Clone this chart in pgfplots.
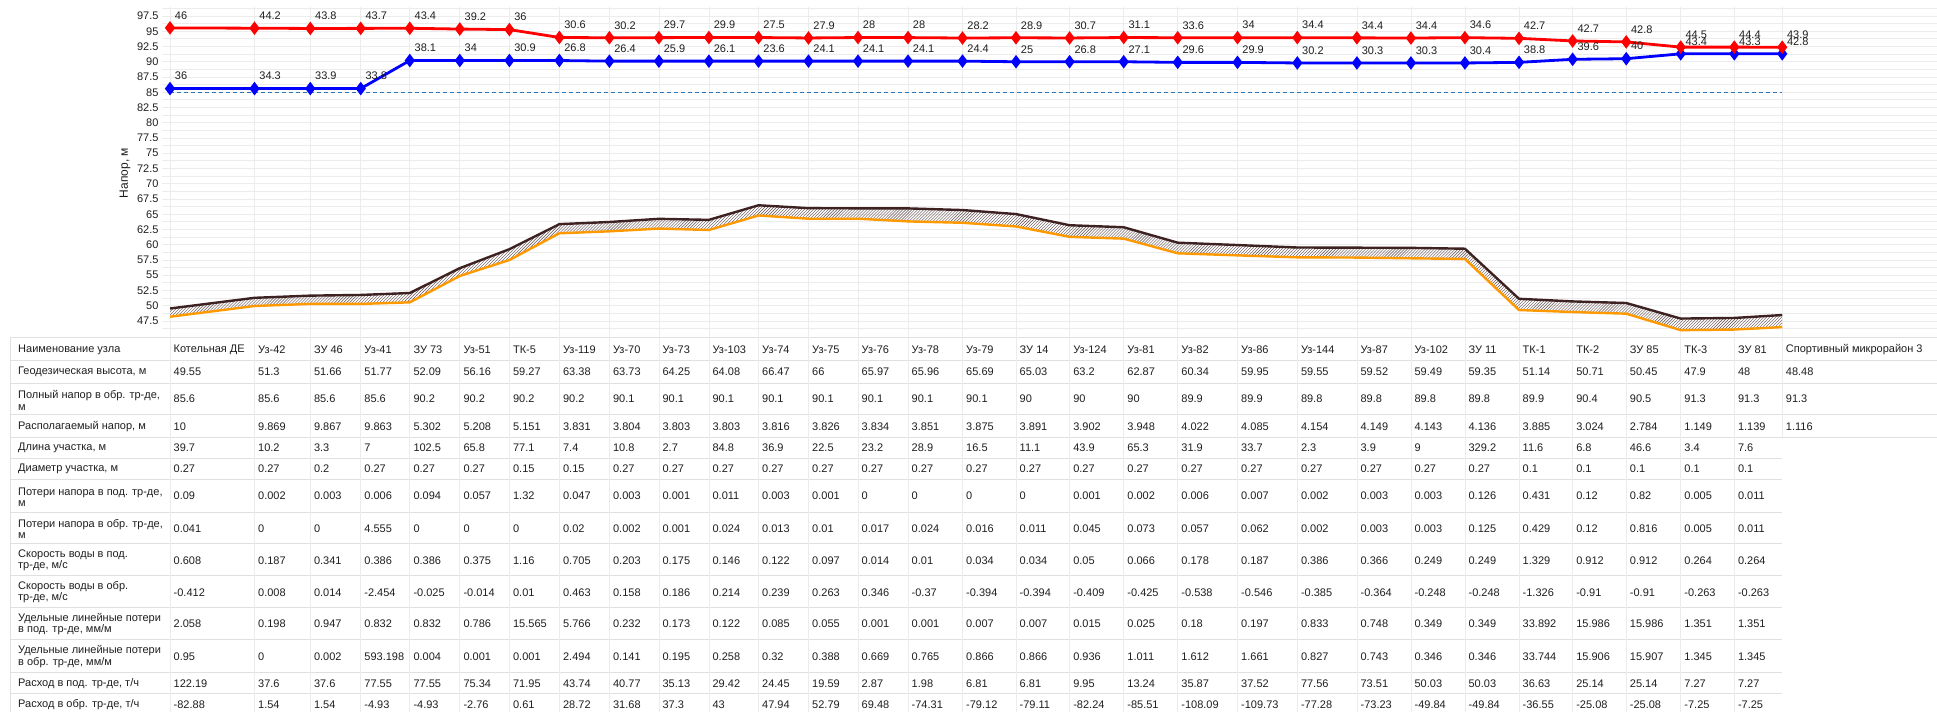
\documentclass[border=0pt]{standalone}
\usepackage{fontspec}
\setmainfont{Liberation Sans}
\usepackage{pgfplots}
\usepackage{pgfplotstable}
\pgfplotsset{compat=1.18}
\usetikzlibrary{patterns}

\definecolor{gridc}{RGB}{236,236,236}
\definecolor{tabc}{RGB}{224,224,224}
\definecolor{redc}{RGB}{255,0,0}
\definecolor{bluec}{RGB}{0,0,255}
\definecolor{brownc}{RGB}{62,34,34}
\definecolor{orangec}{RGB}{255,153,0}
\definecolor{dashc}{RGB}{46,117,182}
\definecolor{hatchc}{RGB}{95,75,75}
\definecolor{txt}{RGB}{30,30,30}

\newcommand\tf{\fontsize{11bp}{11.5bp}\selectfont}

% x = horizontal position of the node (column start), geo = geodesic height,
% sup / ret = full head in supply / return pipe, tr = pipe bottom line,
% dsup / dret = head above ground (labels)
\pgfplotstableread{
x geo sup ret tr dsup dret
170 49.55 95.55 85.6 48.2 46 36
254.5 51.3 95.5 85.6 49.96 44.2 34.3
310.3 51.66 95.46 85.6 50.3 43.8 33.9
360.7 51.77 95.47 85.6 50.3 43.7 33.8
409.8 52.09 95.49 90.2 50.56 43.4 38.1
459.8 56.16 95.36 90.2 54.88 39.2 34
509.4 59.27 95.27 90.2 57.5 36 30.9
559.4 63.38 93.98 90.2 61.88 30.6 26.8
609.4 63.73 93.93 90.1 62.2 30.2 26.4
658.9 64.25 93.95 90.1 62.65 29.7 25.9
708.9 64.08 93.98 90.1 62.42 29.9 26.1
758.5 66.47 93.97 90.1 64.8 27.5 23.6
808.5 66 93.9 90.1 64.27 27.9 24.1
858 65.97 93.97 90.1 64.27 28 24.1
908 65.96 93.96 90.1 63.83 28 24.1
962.5 65.69 93.89 90.1 63.6 28.2 24.4
1016 65.03 93.93 90 63.0 28.9 25
1069.6 63.2 93.9 90 61.3 30.7 26.8
1123.7 62.87 93.97 90 61.0 31.1 27.1
1177.7 60.34 93.94 89.9 58.6 33.6 29.6
1237.5 59.95 93.95 89.9 58.26 34 29.9
1297.3 59.55 93.95 89.8 57.94 34.4 30.2
1356.9 59.52 93.92 89.8 57.9 34.4 30.3
1410.9 59.49 93.89 89.8 57.78 34.4 30.3
1464.9 59.35 93.95 89.8 57.67 34.6 30.4
1519 51.14 93.84 89.9 49.3 42.7 38.8
1572.6 50.71 93.41 90.4 48.97 42.7 39.6
1626.2 50.45 93.25 90.5 48.7 42.8 40
1680.7 47.9 92.4 91.3 46.0 44.5 43.4
1734.3 48 92.4 91.3 46.1 44.4 43.3
1782.2 48.48 92.38 91.3 46.5 43.9 42.8
}\data

\def\cx{{170,254.5,310.3,360.7,409.8,459.8,509.4,559.4,609.4,658.9,708.9,758.5,808.5,858,908,962.5,1016,1069.6,1123.7,1177.7,1237.5,1297.3,1356.9,1410.9,1464.9,1519,1572.6,1626.2,1680.7,1734.3,1782.2}}

\newcommand\tabrow[2]{%
  \foreach \v [count=\i from 0] in {#2}{%
    \pgfmathsetmacro\xx{\cx[\i]+3.5}%
    \node[anchor=west,inner sep=0pt,font=\tf,text=txt] at (\xx bp,-#1bp) {\v};}}
\newcommand\rowlab[2]{\node[anchor=west,align=left,inner sep=0pt,font=\tf,text=txt] at (18bp,-#1bp) {#2};}

\begin{document}
\begin{tikzpicture}
\path[use as bounding box] (0,0) rectangle (1937bp,-712bp);

% table grid
\foreach \yy in {337,360,383,414,437}{\draw[tabc,line width=0.8bp] (10bp,-\yy bp) -- (1937bp,-\yy bp);}
\foreach \yy in {458,479,512,543,575,607,639,672,693}{\draw[tabc,line width=0.8bp] (10bp,-\yy bp) -- (1782.2bp,-\yy bp);}
\draw[tabc,line width=0.8bp] (10bp,-337bp) -- (10bp,-712bp);
\foreach \xv in {170,254.5,310.3,360.7,409.8,459.8,509.4,559.4,609.4,658.9,708.9,758.5,808.5,858,908,962.5,1016,1069.6,1123.7,1177.7,1237.5,1297.3,1356.9,1410.9,1464.9,1519,1572.6,1626.2,1680.7,1734.3}{\draw[gridc,line width=0.8bp] (\xv bp,-331bp) -- (\xv bp,-712bp);}
\draw[gridc,line width=0.8bp] (1782.2bp,-331bp) -- (1782.2bp,-437bp);

\begin{axis}[
  at={(162bp,-331.37bp)}, anchor=south west,
  scale only axis, width=1775bp, height=323.91bp,
  xmin=162, xmax=1937, ymin=45.8, ymax=98.9,
  axis line style={draw=none},
  xtick={170,254.5,310.3,360.7,409.8,459.8,509.4,559.4,609.4,658.9,708.9,758.5,808.5,858,908,962.5,1016,1069.6,1123.7,1177.7,1237.5,1297.3,1356.9,1410.9,1464.9,1519,1572.6,1626.2,1680.7,1734.3,1782.2},
  xticklabels={},
  ytick={47.5,50,...,97.5},
  minor ytick={46.25,48.75,...,98.75},
  xmajorgrids, ymajorgrids, yminorgrids,
  major grid style={draw=gridc,line width=0.8bp},
  minor grid style={draw=gridc,line width=0.8bp},
  major tick length=0pt, minor tick length=0pt,
  tick label style={font=\tf,text=txt},
  /pgf/number format/assume math mode=true,
  every node near coord/.append style={font=\tf,text=txt,anchor=west,inner sep=0pt,xshift=3.5bp,yshift=12.5bp},
]
% hatched band between ground line and pipe line (ground forward, pipe backward)
\addplot[draw=none,pattern=north east lines,pattern color=hatchc,forget plot] coordinates {
(170,49.55) (254.5,51.3) (310.3,51.66) (360.7,51.77) (409.8,52.09) (459.8,56.16) (509.4,59.27) (559.4,63.38) (609.4,63.73) (658.9,64.25) (708.9,64.08) (758.5,66.47) (808.5,66) (858,65.97) (908,65.96) (962.5,65.69) (1016,65.03) (1069.6,63.2) (1123.7,62.87) (1177.7,60.34) (1237.5,59.95) (1297.3,59.55) (1356.9,59.52) (1410.9,59.49) (1464.9,59.35) (1519,51.14) (1572.6,50.71) (1626.2,50.45) (1680.7,47.9) (1734.3,48) (1782.2,48.48)
(1782.2,46.5) (1734.3,46.1) (1680.7,46.0) (1626.2,48.7) (1572.6,48.97) (1519,49.3) (1464.9,57.67) (1410.9,57.78) (1356.9,57.9) (1297.3,57.94) (1237.5,58.26) (1177.7,58.6) (1123.7,61.0) (1069.6,61.3) (1016,63.0) (962.5,63.6) (908,63.83) (858,64.27) (808.5,64.27) (758.5,64.8) (708.9,62.42) (658.9,62.65) (609.4,62.2) (559.4,61.88) (509.4,57.5) (459.8,54.88) (409.8,50.56) (360.7,50.3) (310.3,50.3) (254.5,49.96) (170,48.2)
};
\addplot[orangec,line width=2.4bp,no marks] table[x=x,y=tr]{\data};
\addplot[brownc,line width=2.4bp,no marks] table[x=x,y=geo]{\data};
\addplot[dashc,line width=1.2bp,dash pattern=on 4bp off 3bp,no marks] coordinates {(170,85) (1782.2,85)};
\addplot[bluec,line width=2.8bp,mark=diamond*,mark size=4.5bp,
  point meta=explicit symbolic,nodes near coords] table[x=x,y=ret,meta=dret]{\data};
\addplot[redc,line width=2.8bp,mark=diamond*,mark size=4.5bp,
  point meta=explicit symbolic,nodes near coords] table[x=x,y=sup,meta=dsup]{\data};
\end{axis}

\node[rotate=90,font=\fontsize{12bp}{13bp}\selectfont,text=txt] at (125bp,-173bp) {Напор, м};

% table text
\rowlab{350}{Наименование узла}
\rowlab{371.7}{Геодезическая высота, м}
\rowlab{400.5}{Полный напор в обр. тр-де,\\м}
\rowlab{426.7}{Располагаемый напор, м}
\rowlab{447.7}{Длина участка, м}
\rowlab{469}{Диаметр участка, м}
\rowlab{497.3}{Потери напора в под. тр-де,\\м}
\rowlab{529}{Потери напора в обр. тр-де,\\м}
\rowlab{560.3}{Скорость воды в под.\\тр-де, м/с}
\rowlab{592}{Скорость воды в обр.\\тр-де, м/с}
\rowlab{624}{Удельные линейные потери\\в под. тр-де, мм/м}
\rowlab{656.5}{Удельные линейные потери\\в обр. тр-де, мм/м}
\rowlab{683.3}{Расход в под. тр-де, т/ч}
\rowlab{704.3}{Расход в обр. тр-де, т/ч}

\tabrow{350}{Котельная ДЕ,Уз-42,ЗУ 46,Уз-41,ЗУ 73,Уз-51,ТК-5,Уз-119,Уз-70,Уз-73,Уз-103,Уз-74,Уз-75,Уз-76,Уз-78,Уз-79,ЗУ 14,Уз-124,Уз-81,Уз-82,Уз-86,Уз-144,Уз-87,Уз-102,ЗУ 11,ТК-1,ТК-2,ЗУ 85,ТК-3,ЗУ 81,Спортивный микрорайон 3}
\tabrow{371.7}{49.55,51.3,51.66,51.77,52.09,56.16,59.27,63.38,63.73,64.25,64.08,66.47,66,65.97,65.96,65.69,65.03,63.2,62.87,60.34,59.95,59.55,59.52,59.49,59.35,51.14,50.71,50.45,47.9,48,48.48}
\tabrow{399}{85.6,85.6,85.6,85.6,90.2,90.2,90.2,90.2,90.1,90.1,90.1,90.1,90.1,90.1,90.1,90.1,90,90,90,89.9,89.9,89.8,89.8,89.8,89.8,89.9,90.4,90.5,91.3,91.3,91.3}
\tabrow{426.7}{10,9.869,9.867,9.863,5.302,5.208,5.151,3.831,3.804,3.803,3.803,3.816,3.826,3.834,3.851,3.875,3.891,3.902,3.948,4.022,4.085,4.154,4.149,4.143,4.136,3.885,3.024,2.784,1.149,1.139,1.116}
\tabrow{447.7}{39.7,10.2,3.3,7,102.5,65.8,77.1,7.4,10.8,2.7,84.8,36.9,22.5,23.2,28.9,16.5,11.1,43.9,65.3,31.9,33.7,2.3,3.9,9,329.2,11.6,6.8,46.6,3.4,7.6}
\tabrow{469}{0.27,0.27,0.2,0.27,0.27,0.27,0.15,0.15,0.27,0.27,0.27,0.27,0.27,0.27,0.27,0.27,0.27,0.27,0.27,0.27,0.27,0.27,0.27,0.27,0.27,0.1,0.1,0.1,0.1,0.1}
\tabrow{495.7}{0.09,0.002,0.003,0.006,0.094,0.057,1.32,0.047,0.003,0.001,0.011,0.003,0.001,0,0,0,0,0.001,0.002,0.006,0.007,0.002,0.003,0.003,0.126,0.431,0.12,0.82,0.005,0.011}
\tabrow{529}{0.041,0,0,4.555,0,0,0,0.02,0.002,0.001,0.024,0.013,0.01,0.017,0.024,0.016,0.011,0.045,0.073,0.057,0.062,0.002,0.003,0.003,0.125,0.429,0.12,0.816,0.005,0.011}
\tabrow{560.3}{0.608,0.187,0.341,0.386,0.386,0.375,1.16,0.705,0.203,0.175,0.146,0.122,0.097,0.014,0.01,0.034,0.034,0.05,0.066,0.178,0.187,0.386,0.366,0.249,0.249,1.329,0.912,0.912,0.264,0.264}
\tabrow{592.3}{-0.412,0.008,0.014,-2.454,-0.025,-0.014,0.01,0.463,0.158,0.186,0.214,0.239,0.263,0.346,-0.37,-0.394,-0.394,-0.409,-0.425,-0.538,-0.546,-0.385,-0.364,-0.248,-0.248,-1.326,-0.91,-0.91,-0.263,-0.263}
\tabrow{624}{2.058,0.198,0.947,0.832,0.832,0.786,15.565,5.766,0.232,0.173,0.122,0.085,0.055,0.001,0.001,0.007,0.007,0.015,0.025,0.18,0.197,0.833,0.748,0.349,0.349,33.892,15.986,15.986,1.351,1.351}
\tabrow{656.3}{0.95,0,0.002,593.198,0.004,0.001,0.001,2.494,0.141,0.195,0.258,0.32,0.388,0.669,0.765,0.866,0.866,0.936,1.011,1.612,1.661,0.827,0.743,0.346,0.346,33.744,15.906,15.907,1.345,1.345}
\tabrow{683.3}{122.19,37.6,37.6,77.55,77.55,75.34,71.95,43.74,40.77,35.13,29.42,24.45,19.59,2.87,1.98,6.81,6.81,9.95,13.24,35.87,37.52,77.56,73.51,50.03,50.03,36.63,25.14,25.14,7.27,7.27}
\tabrow{704.3}{-82.88,1.54,1.54,-4.93,-4.93,-2.76,0.61,28.72,31.68,37.3,43,47.94,52.79,69.48,-74.31,-79.12,-79.11,-82.24,-85.51,-108.09,-109.73,-77.28,-73.23,-49.84,-49.84,-36.55,-25.08,-25.08,-7.25,-7.25}
\end{tikzpicture}
\end{document}
